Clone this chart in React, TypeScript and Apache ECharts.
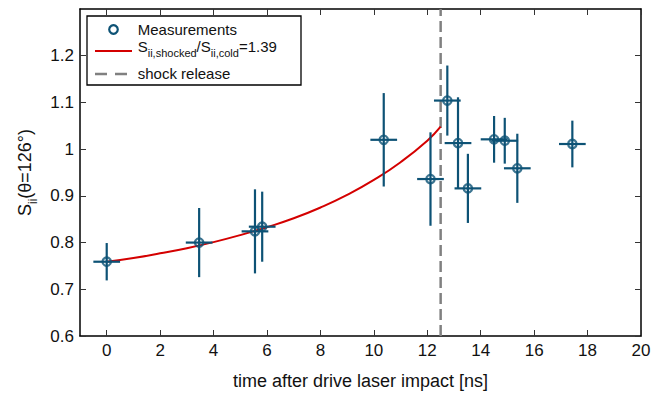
import React, { useEffect, useRef } from "react";
import * as echarts from "echarts";

// ---- Data ----
const timeNs = [0, 3.46, 5.55, 5.82, 10.37, 12.12, 12.75, 13.15, 13.52, 14.5, 14.9, 15.37, 17.43];
const timeErr = [0.5, 0.5, 0.5, 0.5, 0.5, 0.5, 0.5, 0.5, 0.5, 0.5, 0.5, 0.5, 0.5];
const sii = [0.759, 0.8, 0.824, 0.834, 1.02, 0.936, 1.104, 1.013, 0.916, 1.021, 1.018, 0.959, 1.011];
const siiErr = [0.04, 0.074, 0.09, 0.075, 0.1, 0.1, 0.075, 0.098, 0.074, 0.05, 0.049, 0.074, 0.05];

const fitTime = [0, 1, 2, 3, 4, 5, 6, 7, 8, 9, 10, 11, 12, 12.5];
const fitSii = [0.759, 0.767, 0.777, 0.788, 0.801, 0.816, 0.833, 0.852, 0.875, 0.902, 0.934, 0.972, 1.018, 1.048];

const releaseTime = [12.5, 12.5];
const releaseSii = [0.6, 1.3];

const xTicks = [0, 2, 4, 6, 8, 10, 12, 14, 16, 18, 20];
const yTicks = [0.6, 0.7, 0.8, 0.9, 1, 1.1, 1.2];

const FONT = "Liberation Sans";
const BLUE = "#0d5275";
const RED = "#d40000";
const GRAY = "#808080";

export default function App() {
  const ref = useRef<HTMLDivElement>(null);

  useEffect(() => {
    if (!ref.current) return;
    const chart = echarts.init(ref.current, undefined, { renderer: "svg" });

    const points = timeNs.map((t, i) => [t, sii[i], timeErr[i], siiErr[i]]);
    const fit = fitTime.map((t, i) => [t, fitSii[i]]);
    const release = releaseTime.map((t, i) => [t, releaseSii[i]]);

    const axisLine = { show: true, onZero: false, lineStyle: { color: "#000", width: 1.5 } };
    const tickStyle = { color: "#333", width: 1 };

    const option: any = {
      animation: false,
      backgroundColor: "#fff",
      textStyle: { fontFamily: FONT },
      grid: { left: 80, right: 31, top: 9, bottom: 58, containLabel: false, outerBoundsMode: "none" },
      xAxis: [
        {
          type: "value",
          min: -1,
          max: 20,
          position: "bottom",
          axisLine,
          splitLine: { show: false },
          axisTick: { show: true, inside: true, length: 6, customValues: xTicks, lineStyle: tickStyle },
          axisLabel: { customValues: xTicks, color: "#111", fontSize: 17, fontFamily: FONT, margin: 6 },
          name: "time after drive laser impact [ns]",
          nameLocation: "middle",
          nameGap: 36,
          nameTextStyle: { fontSize: 18, color: "#111", fontFamily: FONT },
        },
        {
          type: "value",
          min: -1,
          max: 20,
          position: "top",
          axisLine,
          splitLine: { show: false },
          axisTick: { show: true, inside: true, length: 6, customValues: xTicks, lineStyle: tickStyle },
          axisLabel: { show: false },
        },
      ],
      yAxis: [
        {
          type: "value",
          min: 0.6,
          max: 1.3,
          position: "left",
          axisLine,
          splitLine: { show: false },
          axisTick: { show: true, inside: true, length: 6, customValues: yTicks, lineStyle: tickStyle },
          axisLabel: { customValues: yTicks, color: "#111", fontSize: 17, fontFamily: FONT, margin: 6 },
          name: "{s|S}{sub|ii}{s|(θ=126°)}",
          nameLocation: "middle",
          nameRotate: 90,
          nameGap: 41,
          nameTextStyle: {
            rich: {
              s: { fontSize: 18, fontFamily: FONT, color: "#111" },
              sub: { fontSize: 12, fontFamily: FONT, color: "#111", padding: [16, 0, 0, 0] },
            },
          },
        },
        {
          type: "value",
          min: 0.6,
          max: 1.3,
          position: "right",
          axisLine,
          splitLine: { show: false },
          axisTick: { show: true, inside: true, length: 6, customValues: yTicks, lineStyle: tickStyle },
          axisLabel: { show: false },
        },
      ],
      series: [
        {
          type: "line",
          name: "fit",
          data: fit,
          smooth: true,
          showSymbol: false,
          lineStyle: { color: RED, width: 2 },
          z: 2,
        },
        {
          type: "line",
          name: "shock release",
          data: release,
          showSymbol: false,
          lineStyle: { color: GRAY, width: 2.5, type: [11, 5] },
          z: 1,
        },
        {
          type: "custom",
          name: "errorbars",
          data: points,
          encode: { x: 0, y: 1 },
          z: 3,
          renderItem: (params: any, api: any) => {
            const x = api.value(0);
            const y = api.value(1);
            const xe = api.value(2);
            const ye = api.value(3);
            const l = api.coord([x - xe, y]);
            const r = api.coord([x + xe, y]);
            const t = api.coord([x, y + ye]);
            const b = api.coord([x, y - ye]);
            const style = { stroke: BLUE, lineWidth: 2.2, fill: "none" };
            return {
              type: "group",
              children: [
                { type: "line", shape: { x1: l[0], y1: l[1], x2: r[0], y2: r[1] }, style },
                { type: "line", shape: { x1: t[0], y1: t[1], x2: b[0], y2: b[1] }, style },
              ],
            };
          },
        },
        {
          type: "scatter",
          name: "Measurements",
          data: points.map((p) => [p[0], p[1]]),
          symbol: "circle",
          symbolSize: 8.5,
          itemStyle: { color: "rgba(0,0,0,0)", borderColor: BLUE, borderWidth: 2.2 },
          z: 4,
        },
      ],
      graphic: [
        {
          type: "group",
          z: 100,
          children: [
            {
              type: "rect",
              shape: { x: 87, y: 16, width: 214, height: 69 },
              style: { fill: "#fff", stroke: "#000", lineWidth: 1.3 },
            },
            {
              type: "circle",
              shape: { cx: 113.5, cy: 29.5, r: 4.3 },
              style: { fill: "none", stroke: BLUE, lineWidth: 2.2 },
            },
            {
              type: "text",
              x: 137.7,
              y: 29,
              style: { text: "Measurements", font: `15px "${FONT}"`, fill: "#111", verticalAlign: "middle" },
            },
            {
              type: "line",
              shape: { x1: 95, y1: 51, x2: 132, y2: 51 },
              style: { stroke: RED, lineWidth: 2 },
            },
            {
              type: "text",
              x: 137.7,
              y: 46.5,
              style: {
                text: "{m|S}{sub|ii,shocked}{m|/S}{sub|ii,cold}{m|=1.39}",
                verticalAlign: "middle",
                rich: {
                  m: { fontSize: 15, fontFamily: FONT, fill: "#111" },
                  sub: { fontSize: 11, fontFamily: FONT, fill: "#111", padding: [13, 0, 0, 0] },
                },
              },
            },
            {
              type: "line",
              shape: { x1: 95, y1: 74, x2: 132, y2: 74 },
              style: { stroke: GRAY, lineWidth: 2.5, lineDash: [12, 8] },
            },
            {
              type: "text",
              x: 137.7,
              y: 73.4,
              style: { text: "shock release", font: `15px "${FONT}"`, fill: "#111", verticalAlign: "middle" },
            },
          ],
        },
      ],
    };

    chart.setOption(option);
    return () => chart.dispose();
  }, []);

  return (
    <div
      ref={ref}
      style={{ position: "fixed", left: 0, top: 0, width: 672, height: 394, background: "#fff" }}
    />
  );
}
